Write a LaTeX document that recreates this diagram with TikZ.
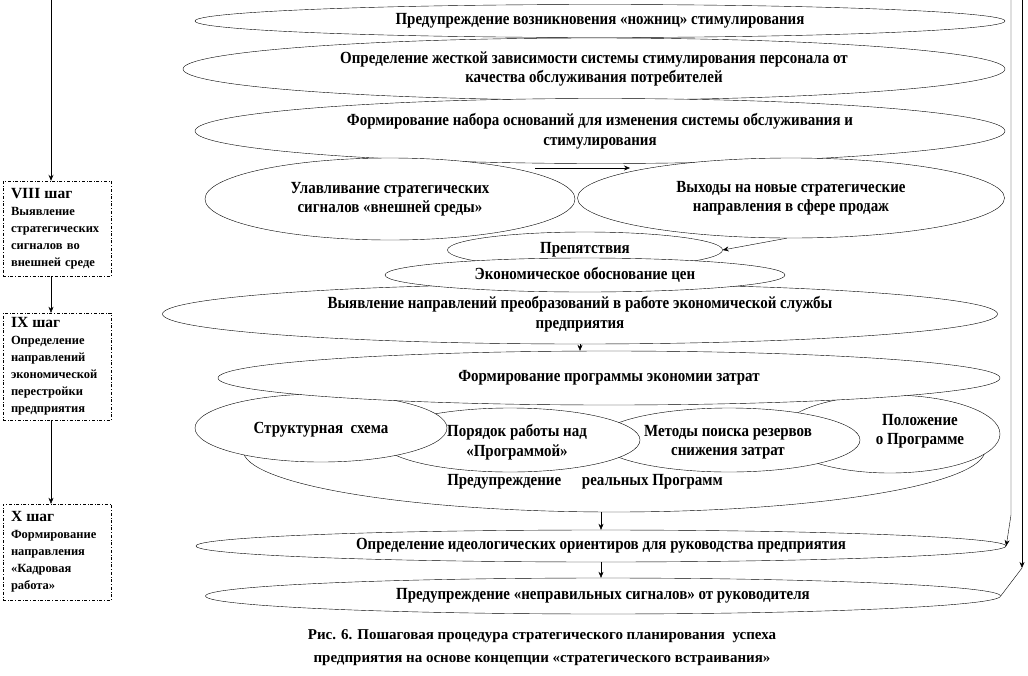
\documentclass[tikz,border=0pt]{standalone}
\usepackage{fontspec}
\setmainfont{Liberation Serif}
\newfontfamily\narrowfont[FakeStretch=0.88]{Liberation Serif}
\usetikzlibrary{shapes.geometric,arrows.meta}
\tikzset{
    elli/.style={ellipse, draw, fill=white, inner sep=0pt, align=center,
        font=\narrowfont\bfseries\fontsize{17}{19.5}\selectfont},
    elltext/.style={align=center, inner sep=0pt,
        font=\narrowfont\bfseries\fontsize{17}{19.5}\selectfont},
    stepbox/.style={draw, dash dot, minimum width=108pt, inner xsep=8pt,
        text width=92pt, align=left, font=\bfseries\fontsize{12.5}{17}\selectfont},
    arr/.style={-{Stealth[length=6pt,width=5pt]}}
}
\begin{document}
\begin{tikzpicture}[x=1pt,y=-1pt]
        \useasboundingbox (0,0) rectangle (1028,675);
        \coordinate (L0) at (51,0);
        \coordinate (R1) at (1011,0);
        \coordinate (R1b) at (1011,515);
        \coordinate (R2) at (1022,0);
        \coordinate (R2b) at (1022,568);
        \coordinate (H1) at (535,168);
        \coordinate (H2) at (630,168);
        % left column of steps
        \node[stepbox, minimum height=95pt] (s8) at (57,228.5) {{\fontsize{15.5}{17}\selectfont VIII шаг}\\Выявление стратегических сигналов во внешней среде};
        \node[stepbox, minimum height=107pt] (s9) at (57,366.5) {{\fontsize{15.5}{17}\selectfont IX шаг}\\Определение направлений экономической перестройки предприятия};
        \node[stepbox, minimum height=96pt] (s10) at (57,552) {{\fontsize{15.5}{17}\selectfont X шаг}\\Формирование направления «Кадровая работа»};
        \draw[thick,arr] (L0) -- (L0 |- s8.north);
        \draw[arr] (s8.south -| L0) -- (L0 |- s9.north);
        \draw[arr] (s9.south -| L0) -- (L0 |- s10.north);
        % ellipses
        \node[elli, minimum width=810pt, minimum height=33pt] (nozh) at (600,21) {Предупреждение возникновения «ножниц» стимулирования};
        \node[elli, minimum width=822pt, minimum height=62pt] (zav) at (594,69) {Определение жесткой зависимости системы стимулирования персонала от\\качества обслуживания потребителей};
        \node[elli, minimum width=810pt, minimum height=65pt] (osn) at (600,131) {Формирование набора оснований для изменения системы обслуживания и\\стимулирования};
        \node[elli, minimum width=370pt, minimum height=82pt] (ulav) at (390,199) {Улавливание стратегических\\сигналов «внешней среды»};
        \node[elli, minimum width=427pt, minimum height=80pt] (vyh) at (791,198) {Выходы на новые стратегические\\направления в сфере продаж};
        \draw[arr] (H1) -- (H2);
        \node[elli, minimum width=835pt, minimum height=60pt] (vyyav) at (580,314) {Выявление направлений преобразований в работе экономической службы\\предприятия};
        \node[elli, minimum width=275pt, minimum height=36pt] (prep) at (585,250) {Препятствия};
        \node[elli, minimum width=400pt, minimum height=34pt] (econ) at (585,275) {Экономическое обоснование цен};
        \draw[arr] (vyh.264) -- (prep.east);
        % cost saving programme
        \node[elli, minimum width=742pt, minimum height=124pt] (real) at (614,450) {};
        \node[elli, minimum width=220pt, minimum height=78pt] (polo) at (890,434) {};
        \node[elli, minimum width=262pt, minimum height=64pt] (meth) at (729,440) {};
        \node[elli, minimum width=260pt, minimum height=64pt] (pord) at (510,440) {};
        \node[elli, minimum width=252pt, minimum height=68pt] (strk) at (321,428) {};
        \node[elli, minimum width=782pt, minimum height=54pt] (prog) at (609,378) {Формирование программы экономии затрат};
        \node[elltext] (realtxt) at (585,482) {Предупреждение\quad\ реальных Программ};
        \node[elltext] (strktxt) at (321,430) {Структурная\ \ схема};
        \node[elltext] (pordtxt) at (517,442) {Порядок работы над\\«Программой»};
        \node[elltext] (methtxt) at (728,442) {Методы поиска резервов\\снижения затрат};
        \node[elltext] (polotxt) at (920,431) {Положение\\о Программе};
        \draw[arr] (vyyav.south) -- (vyyav.south |- prog.north);
        \node[elli, minimum width=810pt, minimum height=32pt] (ideo) at (601,546) {Определение идеологических ориентиров для руководства предприятия};
        \node[elli, minimum width=795pt, minimum height=36pt] (wrong) at (603,596) {Предупреждение «неправильных сигналов» от руководителя};
        \draw[arr] (ideo.north |- real.south) -- (ideo.north);
        \draw[arr] (ideo.south) -- (ideo.south |- wrong.north);
        % right feedback lines
        \draw[arr] (R1) -- (R1b) -- (ideo.0.7);
        \draw[arr] (R2) -- (R2b);
        \draw (R2b) -- (wrong.0.75);
        % caption
        \node[font=\bfseries\fontsize{15}{23}\selectfont, align=center] (cap) at (542,648) {Рис. 6. Пошаговая процедура стратегического планирования\ \ успеха\\предприятия на основе концепции «стратегического встраивания»};
    \end{tikzpicture}
\end{document}
